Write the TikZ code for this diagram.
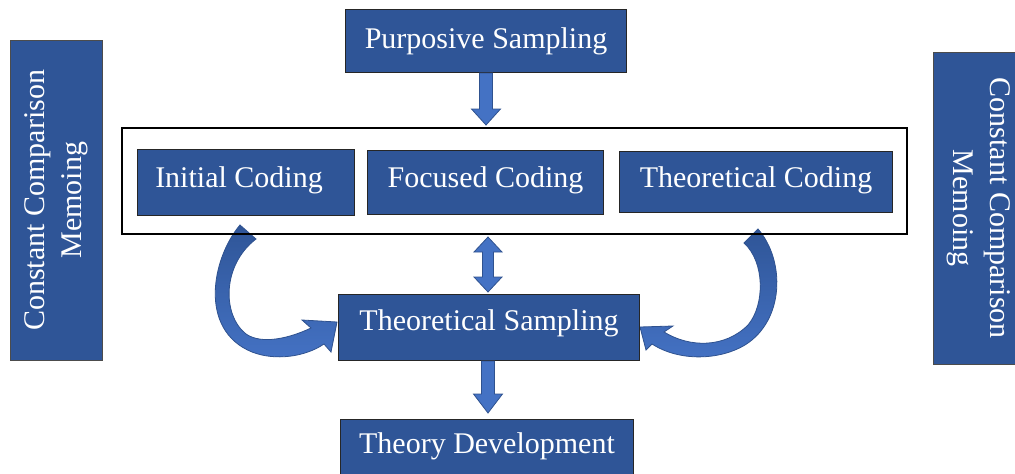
\documentclass[tikz,border=0pt]{standalone}
\usepackage{fontspec}
\setmainfont{Liberation Serif}
\usetikzlibrary{calc}
\definecolor{boxblue}{HTML}{2F5597}
\definecolor{arrowblue}{HTML}{4472C4}
\definecolor{arrowedge}{HTML}{2F528F}
\begin{document}
\begin{tikzpicture}[x=1pt,y=-1pt,
  box/.style={draw=black!85, line width=1pt, fill=boxblue, text=white,
    anchor=north west, inner sep=0pt, font=\fontsize{30}{36}\selectfont},
  memobox/.style={draw=black!70, line width=0.6pt, fill=boxblue, anchor=north west, inner sep=0pt},
  memotext/.style={text=white, align=center, font=\fontsize{30}{37}\selectfont},
  frame/.style={draw=black, line width=2pt, anchor=north west, inner sep=0pt},
  blockarrow/.style={fill=arrowblue, draw=arrowedge, line width=0.8pt, line join=miter},
  curvearrow/.style={top color=boxblue, bottom color=arrowblue, draw=arrowedge, line width=0.8pt, line join=miter}
]
\useasboundingbox (0,0) rectangle (1015,474);

% side panels
\node[memobox, minimum width=92pt, minimum height=320pt] (memoL) at (10,40) {};
\node[memotext, rotate=90] (memoLt) at (memoL.center) {Constant Comparison\\Memoing};
\node[memobox, minimum width=86pt, minimum height=312pt] (memoR) at (933,52) {};
\node[memotext, rotate=-90] (memoRt) at ($(memoR.center)+(2pt,0)$) {Constant Comparison\\Memoing};

% curved feedback arrows
\draw[curvearrow] (240,225) .. controls (212,258) and (198,330) .. (252,352)
  .. controls (275,361) and (305,357) .. (324,344)
  -- (331,352) -- (337,322) -- (302,320) -- (311,328)
  .. controls (290,338) and (262,345) .. (246,334)
  .. controls (222,315) and (222,265) .. (256,239) -- cycle;
\draw[curvearrow] (758,229) .. controls (785,260) and (785,320) .. (745,345)
  .. controls (720,360) and (680,362) .. (652,344)
  -- (646,350) -- (640,327) -- (673,326) -- (664,332)
  .. controls (690,348) and (725,348) .. (748,325)
  .. controls (765,305) and (765,262) .. (744,243) -- cycle;

% coding stage frame and boxes
\node[frame, minimum width=785pt, minimum height=106pt] (frame) at (121,127) {};
\node[box, minimum width=217pt, minimum height=66pt, text depth=10pt] (ic) at (137,149) {\hspace*{-14pt}Initial Coding};
\node[box, minimum width=236pt, minimum height=64pt, text depth=10pt] (fc) at (367,150) {Focused Coding};
\node[box, minimum width=273pt, minimum height=61pt, text depth=9pt] (tc) at (619,151) {Theoretical Coding};

% sampling and outcome boxes (the last one runs past the lower edge)
\node[box, minimum width=281pt, minimum height=63pt] (ps) at (345,9) {Purposive Sampling};
\node[box, minimum width=301pt, minimum height=66pt, text depth=15pt] (ts) at (338,294) {Theoretical Sampling};
\node[box, minimum width=293pt, minimum height=90pt, text depth=42pt] (td) at (340,419) {Theory Development};

% straight block arrows
\coordinate (a1s) at (ps.south);
\coordinate (a1e) at ($(ps.south |- frame.north)+(0,2pt)$);
\draw[blockarrow] ($(a1s)+(-6.5pt,0)$) -- ($(a1e)+(-6.5pt,16pt)$) -- ($(a1e)+(-14.5pt,16pt)$)
  -- (a1e) -- ($(a1e)+(14.5pt,16pt)$) -- ($(a1e)+(6.5pt,16pt)$) -- ($(a1s)+(6.5pt,0)$) -- cycle;

\coordinate (a2t) at ($(ts.north |- frame.south)+(-1pt,-2pt)$);
\coordinate (a2b) at ($(ts.north)+(-1pt,2pt)$);
\draw[blockarrow] (a2t) -- ($(a2t)+(14pt,-15pt)$) -- ($(a2t)+(5.5pt,-15pt)$)
  -- ($(a2b)+(5.5pt,15pt)$) -- ($(a2b)+(14pt,15pt)$) -- (a2b)
  -- ($(a2b)+(-14pt,15pt)$) -- ($(a2b)+(-5.5pt,15pt)$)
  -- ($(a2t)+(-5.5pt,-15pt)$) -- ($(a2t)+(-14pt,-15pt)$) -- cycle;

\coordinate (a3s) at ($(ts.south)+(-1pt,0)$);
\coordinate (a3e) at ($(ts.south |- td.north)+(-1pt,6pt)$);
\draw[blockarrow] ($(a3s)+(-6.5pt,0)$) -- ($(a3e)+(-6.5pt,19pt)$) -- ($(a3e)+(-14.5pt,19pt)$)
  -- (a3e) -- ($(a3e)+(14.5pt,19pt)$) -- ($(a3e)+(6.5pt,19pt)$) -- ($(a3s)+(6.5pt,0)$) -- cycle;
\end{tikzpicture}
\end{document}
